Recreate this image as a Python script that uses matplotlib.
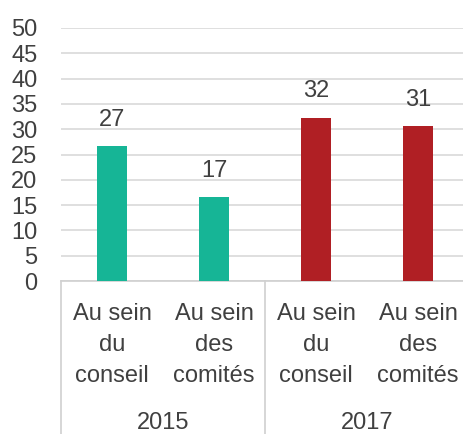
import matplotlib
matplotlib.use("Agg")
import matplotlib.pyplot as plt
import matplotlib.transforms as mtransforms

plt.rcParams['font.family'] = ['Liberation Sans', 'DejaVu Sans']

categories = ["Au sein\ndu\nconseil", "Au sein\ndes\ncomités",
              "Au sein\ndu\nconseil", "Au sein\ndes\ncomités"]
values = [26.7, 16.6, 32.3, 30.6]
years = ["2015", "2017"]
colors = ["#16b596", "#16b596", "#b01f24", "#b01f24"]
text_color = "#404040"
fs = 17

fig = plt.figure(figsize=(4.63, 4.34), dpi=100)
ax = fig.add_axes([61 / 463, 1 - 281 / 434, 408 / 463, 253 / 434])

x = list(range(len(values)))
bars = ax.bar(x, values, width=0.30, color=colors, zorder=3)
for b, v in zip(bars, values):
    ax.annotate(f"{v:.0f}", (b.get_x() + b.get_width() / 2, v),
                xytext=(0, 11), textcoords="offset points",
                ha="center", va="bottom", fontsize=fs, color=text_color)

ax.set_xlim(-0.5, 3.5)
ax.set_ylim(0, 50)
ax.set_yticks(range(0, 51, 5))
ax.yaxis.grid(True, color="#d9d9d9", linewidth=1.2, zorder=0)
ax.set_axisbelow(True)
for s in ["left", "right", "top"]:
    ax.spines[s].set_visible(False)
ax.spines["bottom"].set_color("#d0d0d0")
ax.spines["bottom"].set_linewidth(1.2)

ax.tick_params(axis="y", length=0, pad=17, labelsize=fs, labelcolor=text_color)
ax.set_xticks(x)
ax.set_xticklabels(categories, fontsize=fs, color=text_color, linespacing=1.52)
ax.tick_params(axis="x", length=0, pad=16)

# group separators and year labels under the axis
trans = mtransforms.blended_transform_factory(ax.transData, ax.transAxes)
for xs in [-0.5, 1.5, 3.5]:
    ax.plot([xs, xs], [0, -0.62], transform=trans, color="#d0d0d0",
            linewidth=1.2, clip_on=False)
for i, yr in enumerate(years):
    ax.text(2 * i + 0.5, -0.56, yr, transform=trans, ha="center", va="center",
            fontsize=fs, color=text_color)

fig.savefig("out.png", dpi=100)
